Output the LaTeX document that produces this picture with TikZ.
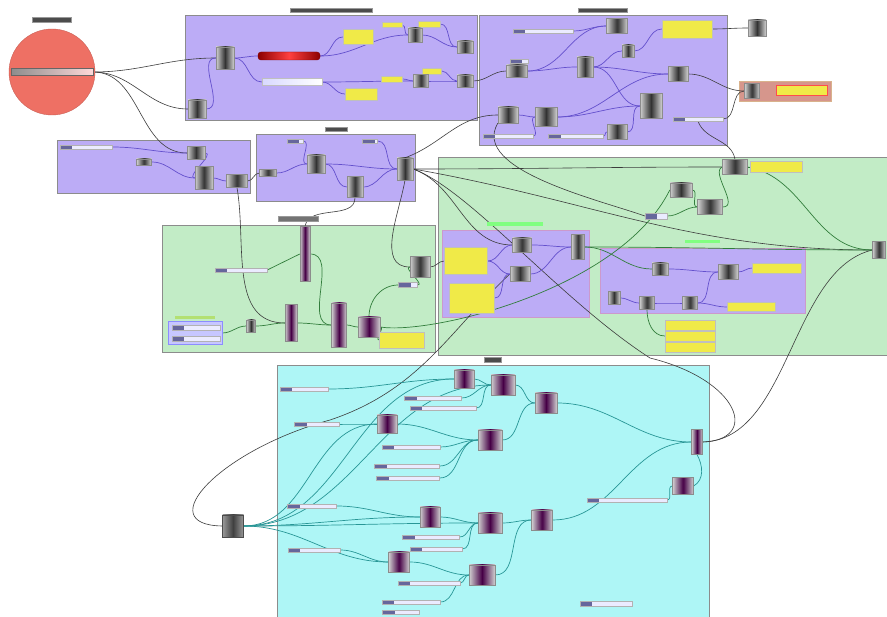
\documentclass[tikz,border=0pt]{standalone}
\usetikzlibrary{positioning}
\pgfdeclarelayer{bg}
\pgfdeclarelayer{wires}
\pgfsetlayers{bg,wires,main}
\definecolor{grpviolet}{RGB}{188,172,246}
\definecolor{grpgreen}{RGB}{194,236,198}
\definecolor{grpcyan}{RGB}{174,246,246}
\definecolor{grpbrown}{RGB}{214,150,140}
\definecolor{ringred}{RGB}{238,112,100}
\definecolor{paneltint}{RGB}{240,234,72}
\definecolor{wirevio}{RGB}{100,80,205}
\definecolor{wiregrn}{RGB}{50,125,60}
\definecolor{wirecyan}{RGB}{40,150,150}
\definecolor{wiredark}{RGB}{60,60,60}
\tikzset{
  sz/.style 2 args={minimum width=#1pt,minimum height=#2pt},
  comp/.style={draw=black!45,left color=black!18,right color=black!18,middle color=black!80,inner sep=0pt,sz={18}{18}},
  ccomp/.style={comp,middle color=violet!55!black},
  slider/.style={draw=black!30,fill=white!92!blue,inner sep=0pt,sz={50}{4},
    path picture={\fill[blue!35!black!60] (path picture bounding box.south west) rectangle ([xshift=12pt]path picture bounding box.north west);}},
  panel/.style={draw=black!25,fill=paneltint,inner sep=0pt},
  tag/.style={draw=black!40,fill=black!70,inner sep=0pt,sz={20}{4}},
  gtag/.style={fill=green!50!white,inner sep=0pt,sz={30}{3}},
  group/.style={draw=black!45,line width=0.6pt},
  wv/.style={draw=wirevio,line width=0.7pt},
  wg/.style={draw=wiregrn,line width=0.7pt},
  wc/.style={draw=wirecyan,line width=0.7pt},
  wd/.style={draw=wiredark,line width=0.6pt},
}
\begin{document}
\begin{tikzpicture}[x=1pt,y=-1pt]
\useasboundingbox (0,0) rectangle (887,617);
% groups
\begin{pgfonlayer}{bg}
\fill[white] (0,0) rectangle (887,617);
\draw[group,fill=grpviolet] (185,15) rectangle (477,120);
\draw[group,fill=grpviolet] (479,15) rectangle (727,145);
\draw[group,fill=grpviolet] (57,140) rectangle (250,193);
\draw[group,fill=grpviolet] (256,134) rectangle (415,201);
\draw[group,fill=grpgreen] (162,225) rectangle (435,352);
\draw[group,fill=grpgreen] (438,157) rectangle (887,355);
\draw[group,fill=grpviolet,draw=violet!40] (442,230) rectangle (589,317);
\draw[group,fill=grpviolet,draw=violet!40] (600,248) rectangle (805,313);
\draw[group,fill=grpcyan] (277,365) rectangle (709,617);
\draw[group,fill=grpbrown,draw=brown!60] (739,81) rectangle (831,101);
\end{pgfonlayer}

% slider ring
\node[circle,fill=ringred,draw=ringred!85!black,minimum size=86pt,inner sep=0pt] (ring) at (52,72) {};
\node[tag,sz={39}{5}] (ringtag) at (52,20) {};
\node[draw=black!60,left color=black!45,right color=red!15,inner sep=0pt,sz={82}{7}] (ringsl) at (52,72) {};

% group 1
\node[tag,sz={82}{4}] (g1tag) at (331,10) {};
\node[comp,sz={18}{22}] (g1a) at (225,58) {};
\node[comp] (g1b) at (197,109) {};
\node[draw=red!50!black,left color=red!55!black,right color=red!55!black,middle color=red!75,rounded corners=3pt,inner sep=0pt,sz={62}{8}] (g1red) at (289,56) {};
\node[draw=black!25,left color=blue!15,right color=white,inner sep=0pt,sz={60}{7}] (g1white) at (292,82) {};
\node[panel,sz={30}{15}] (g1p1) at (358,37) {};
\node[panel,sz={32}{12}] (g1p2) at (361,94) {};
\node[panel,sz={20}{5}] (g1p3) at (392,25) {};
\node[panel,sz={22}{6}] (g1p4) at (429,24) {};
\node[panel,sz={21}{6}] (g1p5) at (392,79) {};
\node[panel,sz={19}{6}] (g1p6) at (432,71) {};
\node[comp,sz={14}{14}] (g1c) at (415,35) {};
\node[comp,sz={16}{12}] (g1d) at (465,47) {};
\node[comp,sz={15}{13}] (g1e) at (421,81) {};
\node[comp,sz={16}{12}] (g1f) at (465,81) {};

% group 2
\node[tag,sz={49}{4}] (g2tag) at (603,10) {};
\node[comp,sz={21}{15}] (h1) at (617,26) {};
\node[panel,sz={50}{18}] (hpanel) at (687,29) {};
\node[slider,sz={60}{4}] (t1) at (543,31) {};
\node[slider,sz={18}{4}] (h2s) at (519,61) {};
\node[comp,sz={21}{12}] (h2) at (517,71) {};
\node[comp,sz={16}{20}] (h3) at (585,67) {};
\node[comp,sz={12}{12}] (h4) at (628,51) {};
\node[comp,sz={20}{15}] (h5) at (678,74) {};
\node[comp,sz={22}{25}] (h6) at (651,106) {};
\node[comp,sz={22}{19}] (h7) at (546,117) {};
\node[comp,sz={20}{16}] (h8) at (508,115) {};
\node[comp,sz={20}{15}] (h9) at (617,132) {};
\node[slider,sz={55}{4}] (t2) at (576,136) {};
\node[slider,sz={50}{4}] (t3) at (508,136) {};
\node[slider,sz={50}{4}] (t4) at (698,119) {};

% outside, top right
\node[comp,sz={18}{16}] (topcomp) at (757,28) {};
\node[comp,sz={15}{15}] (brc) at (752,91) {};
\node[panel,draw=red!70,line width=1pt,sz={51}{10}] (brp) at (802,91) {};

% group 3
\node[slider,sz={52}{4}] (u1) at (86,147) {};
\node[comp,sz={15}{6}] (u2) at (144,162) {};
\node[comp,sz={18}{13}] (u3) at (196,153) {};
\node[comp,sz={18}{23}] (u4) at (204,178) {};
\node[comp,sz={21}{13}] (u5) at (237,181) {};

% group 4
\node[tag,sz={22}{4}] (g4tag) at (336,129) {};
\node[comp,sz={17}{7}] (v1) at (268,173) {};
\node[comp] (v2) at (316,164) {};
\node[comp,sz={16}{21}] (v3) at (355,187) {};
\node[comp,sz={16}{22}] (v4) at (405,169) {};
\node[slider,sz={16}{4}] (vs1) at (295,141) {};
\node[slider,sz={15}{4}] (vs2) at (370,141) {};

% green group, left
\node[tag,sz={40}{5},fill=black!55] (g5tag) at (298,219) {};
\node[ccomp,sz={10}{55}] (w1) at (305,254) {};
\node[slider,sz={52}{4}] (w2) at (241,270) {};
\node[comp,sz={9}{12}] (w3) at (251,326) {};
\node[ccomp,sz={12}{37}] (w4) at (291,323) {};
\node[ccomp,sz={15}{44}] (w5) at (339,325) {};
\node[ccomp,sz={22}{20}] (w6) at (369,327) {};
\node[comp,sz={20}{21}] (w7) at (420,267) {};
\node[panel,sz={45}{16}] (w8) at (402,340) {};
\node[draw=blue!45,fill=blue!22!white,inner sep=0pt,sz={54}{23}] (w9) at (195,333) {};
\node[slider,sz={48}{5}] (w9a) at (196,328) {};
\node[slider,sz={48}{5}] (w9b) at (196,339) {};
\node[gtag,sz={40}{3},fill=yellow!50!green!60] (w9tag) at (195,318) {};
\node[slider,sz={19}{5}] (w10) at (408,285) {};

% green group, right
\node[comp,sz={25}{15}] (x1) at (735,167) {};
\node[panel,sz={52}{11}] (x2) at (776,167) {};
\node[comp,sz={22}{14}] (x3) at (681,190) {};
\node[comp,sz={25}{15}] (x4) at (710,207) {};
\node[slider,sz={22}{6}] (x5) at (656,216) {};
\node[comp,sz={13}{17}] (x6) at (879,250) {};
\node[gtag,sz={56}{4}] (y0) at (515,224) {};
\node[comp,sz={19}{14}] (y1) at (522,245) {};
\node[comp,sz={20}{15}] (y2) at (520,274) {};
\node[comp,sz={13}{25}] (y3) at (578,247) {};
\node[panel,sz={43}{27}] (y4) at (466,261) {};
\node[panel,sz={45}{30}] (y5) at (472,298) {};
\node[gtag,sz={35}{3}] (z0) at (702,242) {};
\node[comp,sz={16}{12}] (z1) at (660,269) {};
\node[comp,sz={20}{15}] (z2) at (728,272) {};
\node[panel,sz={49}{10}] (z3) at (777,268) {};
\node[comp,sz={12}{13}] (z4) at (614,298) {};
\node[comp,sz={15}{13}] (z5) at (647,303) {};
\node[comp,sz={15}{13}] (z6) at (690,303) {};
\node[panel,sz={48}{9}] (z7) at (751,307) {};
\node[panel,sz={50}{10}] (zp1) at (690,325) {};
\node[panel,sz={50}{10}] (zp2) at (690,336) {};
\node[panel,sz={50}{10}] (zp3) at (690,347) {};

% cyan group
\node[tag,sz={17}{5}] (g9tag) at (493,360) {};
\node[comp,sz={21}{22},left color=black!40,right color=black!40,middle color=black!75,draw=black!70] (B) at (233,526) {};
\node[ccomp,sz={20}{18}] (c1) at (464,379) {};
\node[ccomp,sz={24}{20}] (c2) at (503,385) {};
\node[ccomp,sz={22}{20}] (c3) at (546,403) {};
\node[ccomp,sz={20}{18}] (c4) at (387,424) {};
\node[ccomp,sz={24}{20}] (c5) at (490,440) {};
\node[ccomp,sz={11}{25}] (c6) at (697,442) {};
\node[ccomp,sz={21}{17}] (c7) at (683,486) {};
\node[ccomp,sz={20}{20}] (c8) at (430,517) {};
\node[ccomp,sz={24}{20}] (c9) at (490,523) {};
\node[ccomp,sz={21}{20}] (c10) at (542,520) {};
\node[ccomp,sz={21}{20}] (c11) at (399,562) {};
\node[ccomp,sz={26}{20}] (c12) at (482,575) {};
\node[slider,sz={48}{4}] (s1) at (304,389) {};
\node[slider,sz={57}{4}] (s2) at (433,398) {};
\node[slider,sz={66}{4}] (s3) at (443,408) {};
\node[slider,sz={45}{4}] (s4) at (317,424) {};
\node[slider,sz={58}{4}] (s5) at (411,447) {};
\node[slider,sz={65}{4}] (s6) at (407,466) {};
\node[slider,sz={63}{4}] (s7) at (408,478) {};
\node[slider,sz={49}{4}] (s8) at (312,506) {};
\node[slider,sz={57}{4}] (s9) at (431,537) {};
\node[slider,sz={52}{4}] (s10) at (436,549) {};
\node[slider,sz={52}{4}] (s11) at (314,550) {};
\node[slider,sz={62}{4}] (s12) at (429,583) {};
\node[slider,sz={58}{4}] (s13) at (411,602) {};
\node[slider,sz={37}{4}] (s14) at (401,612) {};
\node[slider,sz={80}{4}] (s15) at (627,500) {};
\node[slider,sz={52}{5}] (s16) at (606,604) {};

\begin{pgfonlayer}{wires}
% wires between groups
\draw[wd] (ringsl.east) to[out=0,in=180] (g1a.west);
\draw[wd] (ringsl.east) to[out=0,in=180] (g1b.west);
\draw[wd] (ringsl.east) to[out=0,in=180] (u3.west);
\draw[wd] (g1f.east) to[out=0,in=180] (h2.west);
\draw[wd] (hpanel.east) to[out=0,in=180] (topcomp.west);
\draw[wd] (h5.east) to[out=0,in=180] (brc.west);
\draw[wd] (t4.east) to[out=0,in=180] (brc.west);
\draw[wd] (t4.south) to[out=-70,in=100] (x1.north);
\draw[wd] (u5.east) to[out=0,in=180] (v1.west);
\draw[wd] (u5.south) to[out=-80,in=180] (w4.west);
\draw[wd] (v4.south) to[out=-100,in=180] (w7.west);
\draw[wd] (v3.south) to[out=-90,in=80] (w1.north);
\draw[wd] (v4.east) to[out=0,in=180] (x1.west);
\draw[wd] (v4.east) to[out=-10,in=180] (x6.west);
\draw[wd] (v4.east) to[out=-20,in=180] (y1.west);
\draw[wd] (v4.north) to[out=20,in=180] (h8.west);
\draw[wd] (h8.south west) .. controls (470,170) and (600,200) .. (x5.west);
\draw[wd] (w7.east) to[out=0,in=180] (y4.west);
\draw[wg] (w6.east) .. controls (430,335) and (620,290) .. (x3.west);
\draw[wd] (c6.east) .. controls (760,440) and (740,380) .. (650,358) .. controls (560,300) and (470,190) .. (v4.east);
\draw[wd] (c6.east) .. controls (790,440) and (790,270) .. (x6.west);
\draw[wd] (B.west) .. controls (150,525) and (220,450) .. (330,420) .. controls (420,390) and (450,330) .. (y2.west);
% green group
\draw[wg] (y3.east) to[out=0,in=180] (x6.west);
\draw[wg] (x1.east) to[out=-10,in=180] (x6.west);
\draw[wg] (x1.east) -- (x2.west);
\draw[wg] (x3.east) to[out=0,in=180] (x4.west);
\draw[wg] (x4.east) .. controls (740,207) and (710,172) .. (x1.west);
\draw[wg] (x5.east) to[out=0,in=180] (x4.west);
\draw[wv] (y4.east) to[out=0,in=180] (y1.west);
\draw[wv] (y4.east) to[out=0,in=180] (y2.west);
\draw[wv] (y5.east) to[out=0,in=180] (y2.west);
\draw[wv] (y1.east) to[out=0,in=180] (y3.west);
\draw[wv] (y2.east) to[out=0,in=180] (y3.west);
\draw[wg] (y3.east) to[out=0,in=180] (z1.west);
\draw[wv] (z1.east) to[out=0,in=180] (z2.west);
\draw[wv] (z2.east) to[out=0,in=180] (z3.west);
\draw[wv] (z4.east) to[out=0,in=180] (z5.west);
\draw[wv] (z5.east) to[out=0,in=180] (z6.west);
\draw[wv] (z6.east) to[out=0,in=180] (z2.west);
\draw[wv] (z6.east) to[out=0,in=180] (z7.west);
\draw[wg] (z5.south) to[out=-90,in=180] (zp2.west);
% green group, left
\draw[wg] (w2.east) -- (w1.west);
\draw[wg] (w9.east) to[out=0,in=180] (w3.west);
\draw[wg] (w3.east) to[out=0,in=180] (w4.west);
\draw[wg] (w4.east) to[out=0,in=180] (w5.west);
\draw[wg] (w1.east) to[out=0,in=180] (w5.west);
\draw[wg] (w5.east) to[out=0,in=180] (w6.west);
\draw[wg] (w6.east) to[out=0,in=180] (w8.west);
\draw[wg] (w6.north) to[out=90,in=180] (w10.west);
\draw[wg] (w10.east) to[out=0,in=180] (w7.west);
% group 1
\draw[wv] (g1b.east) to[out=0,in=180] (g1a.west);
\draw[wv] (g1a.east) to[out=0,in=180] (g1red.west);
\draw[wv] (g1a.east) to[out=0,in=180] (g1white.west);
\draw[wv] (g1red.east) to[out=0,in=180] (g1p1.west);
\draw[wv] (g1red.east) to[out=0,in=180] (g1c.west);
\draw[wv] (g1white.east) to[out=0,in=180] (g1p2.west);
\draw[wv] (g1white.east) to[out=0,in=180] (g1e.west);
\draw[wv] (g1p3.east) to[out=0,in=180] (g1c.west);
\draw[wv] (g1c.east) to[out=0,in=180] (g1d.west);
\draw[wv] (g1p4.east) to[out=0,in=180] (g1d.west);
\draw[wv] (g1p5.east) to[out=0,in=180] (g1e.west);
\draw[wv] (g1e.east) to[out=0,in=180] (g1f.west);
\draw[wv] (g1p6.east) to[out=0,in=180] (g1f.west);
% group 2
\draw[wv] (t1.east) to[out=0,in=180] (h1.west);
\draw[wv] (h2.east) to[out=0,in=180] (h3.west);
\draw[wv] (h2.east) to[out=0,in=180] (h1.west);
\draw[wv] (h3.east) to[out=0,in=180] (h4.west);
\draw[wv] (h4.east) to[out=0,in=180] (hpanel.west);
\draw[wv] (h3.east) to[out=0,in=180] (h5.west);
\draw[wv] (h3.east) to[out=0,in=180] (h6.west);
\draw[wv] (h7.east) to[out=0,in=180] (h6.west);
\draw[wv] (h7.east) to[out=0,in=180] (h5.west);
\draw[wv] (h8.east) to[out=0,in=180] (h7.west);
\draw[wv] (t3.east) to[out=0,in=180] (h7.west);
\draw[wv] (t2.east) to[out=0,in=180] (h9.west);
\draw[wv] (h9.east) to[out=0,in=180] (h6.west);
% groups 3 and 4
\draw[wv] (u1.east) to[out=0,in=180] (u3.west);
\draw[wv] (u2.east) to[out=0,in=180] (u4.west);
\draw[wv] (u3.east) to[out=0,in=180] (u4.west);
\draw[wv] (u4.east) to[out=0,in=180] (u5.west);
\draw[wv] (v1.east) to[out=0,in=180] (v2.west);
\draw[wv] (vs1.east) to[out=0,in=180] (v2.west);
\draw[wv] (v2.east) to[out=0,in=180] (v4.west);
\draw[wv] (v2.east) to[out=0,in=180] (v3.west);
\draw[wv] (v3.east) to[out=0,in=180] (v4.west);
\draw[wv] (vs2.east) to[out=0,in=180] (v4.west);
% cyan group
\draw[wc] (B.east) to[out=0,in=180] (c1.west);
\draw[wc] (B.east) to[out=0,in=180] (c2.west);
\draw[wc] (B.east) to[out=0,in=180] (c4.west);
\draw[wc] (B.east) to[out=0,in=180] (c8.west);
\draw[wc] (B.east) to[out=0,in=180] (c9.west);
\draw[wc] (B.east) to[out=0,in=180] (c11.west);
\draw[wc] (s1.east) to[out=0,in=180] (c1.west);
\draw[wc] (c1.east) to[out=0,in=180] (c2.west);
\draw[wc] (s2.east) to[out=0,in=180] (c2.west);
\draw[wc] (s3.east) to[out=0,in=180] (c2.west);
\draw[wc] (c2.east) to[out=0,in=180] (c3.west);
\draw[wc] (s4.east) to[out=0,in=180] (c4.west);
\draw[wc] (c4.east) to[out=0,in=180] (c5.west);
\draw[wc] (s5.east) to[out=0,in=180] (c5.west);
\draw[wc] (s6.east) to[out=0,in=180] (c5.west);
\draw[wc] (s7.east) to[out=0,in=180] (c5.west);
\draw[wc] (c5.east) to[out=0,in=180] (c3.west);
\draw[wc] (c3.east) to[out=0,in=180] (c6.west);
\draw[wc] (s8.east) to[out=0,in=180] (c8.west);
\draw[wc] (c8.east) to[out=0,in=180] (c9.west);
\draw[wc] (s9.east) to[out=0,in=180] (c9.west);
\draw[wc] (s10.east) to[out=0,in=180] (c9.west);
\draw[wc] (c9.east) to[out=0,in=180] (c10.west);
\draw[wc] (s11.east) to[out=0,in=180] (c11.west);
\draw[wc] (c11.east) to[out=0,in=180] (c12.west);
\draw[wc] (s12.east) to[out=0,in=180] (c12.west);
\draw[wc] (s13.east) to[out=0,in=180] (c12.west);
\draw[wc] (c12.east) to[out=0,in=180] (c10.west);
\draw[wc] (c10.east) to[out=0,in=180] (c6.west);
\draw[wc] (s15.east) to[out=0,in=180] (c7.west);
\draw[wc] (c7.east) to[out=30,in=-60] (c6.south);
\end{pgfonlayer}
\end{tikzpicture}
\end{document}
